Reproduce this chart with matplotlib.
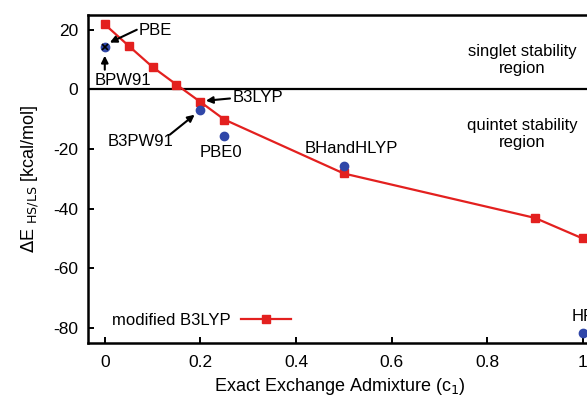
import matplotlib.pyplot as plt

plt.rcParams['font.family'] = ['Liberation Sans', 'DejaVu Sans']
plt.rcParams['axes.unicode_minus'] = False

# modified B3LYP scan over exact exchange admixture
c1_values = [0.0, 0.05, 0.10, 0.15, 0.20, 0.25, 0.50, 0.90, 1.00]
de_modified = [21.8, 14.6, 7.5, 1.6, -4.2, -10.1, -28.2, -43.1, -50.0]

# standard functionals
func_names = ['PBE', 'B3PW91', 'PBE0', 'BHandHLYP', 'HF']
func_c1 = [0.0, 0.20, 0.25, 0.50, 1.00]
func_de = [14.3, -7.0, -15.5, -25.8, -81.8]

red = '#e3201f'
blue = '#3047a8'

fig = plt.figure(figsize=(5.87, 4.01), dpi=100)
ax = fig.add_axes([0.150, 0.145, 0.859, 0.818])

ax.axhline(0, color='black', lw=1.6, zorder=1)
ax.plot(c1_values, de_modified, '-s', color=red, lw=1.6, ms=6,
        label='modified B3LYP', zorder=3)
ax.plot(func_c1, func_de, 'o', color=blue, ms=6, ls='none', zorder=4)
# BPW91 overlaps PBE at c1 = 0
ax.plot([0.0], [14.3], 'x', color='black', ms=4, mew=1.2, zorder=5)

ax.set_xlim(-0.035, 1.02)
ax.set_ylim(-85, 25)
ax.set_xticks([0, 0.2, 0.4, 0.6, 0.8, 1.0])
ax.set_xticklabels(['0', '0.2', '0.4', '0.6', '0.8', '1'])
ax.set_yticks([20, 0, -20, -40, -60, -80])
ax.tick_params(direction='in', length=4, width=1.4, labelsize=12.5, pad=7)
ax.tick_params(axis='x', pad=9)
for s in ax.spines.values():
    s.set_linewidth(1.8)

ax.set_xlabel('Exact Exchange Admixture (c$_1$)', fontsize=13, labelpad=4)
ax.set_ylabel(r'$\Delta$E $_{\mathrm{HS/LS}}$ [kcal/mol]', fontsize=13, labelpad=9)

fs = 12
arrow = dict(arrowstyle='-|>', color='black', lw=1.5, mutation_scale=10,
             shrinkA=0, shrinkB=0)
ax.text(0.071, 19.8, 'PBE', fontsize=fs, ha='left', va='center')
ax.annotate('', xy=(0.0105, 15.7), xytext=(0.067, 20.0), arrowprops=arrow)
ax.text(0.038, 3.0, 'BPW91', fontsize=fs, ha='center', va='center')
ax.annotate('', xy=(0.0, 11.3), xytext=(0.0, 6.6), arrowprops=arrow)
ax.text(0.268, -2.8, 'B3LYP', fontsize=fs, ha='left', va='center')
ax.annotate('', xy=(0.2115, -3.8), xytext=(0.262, -3.05), arrowprops=arrow)
ax.text(0.075, -17.5, 'B3PW91', fontsize=fs, ha='center', va='center')
ax.annotate('', xy=(0.188, -8.5), xytext=(0.136, -15.2), arrowprops=arrow)
ax.text(0.244, -21.3, 'PBE0', fontsize=fs, ha='center', va='center')
ax.text(0.516, -19.9, 'BHandHLYP', fontsize=fs, ha='center', va='center')
ax.text(1.0, -76.3, 'HF', fontsize=fs, ha='center', va='center')

ax.text(0.873, 9.9, 'singlet stability\nregion', fontsize=fs,
        ha='center', va='center', linespacing=1.15)
ax.text(0.873, -14.9, 'quintet stability\nregion', fontsize=fs,
        ha='center', va='center', linespacing=1.15)

ax.legend(loc='lower left', bbox_to_anchor=(0.035, 0.025), frameon=False,
          fontsize=fs, markerfirst=False, handlelength=3.0, handletextpad=0.6,
          borderaxespad=0)

fig.savefig('out.png', dpi=100)
